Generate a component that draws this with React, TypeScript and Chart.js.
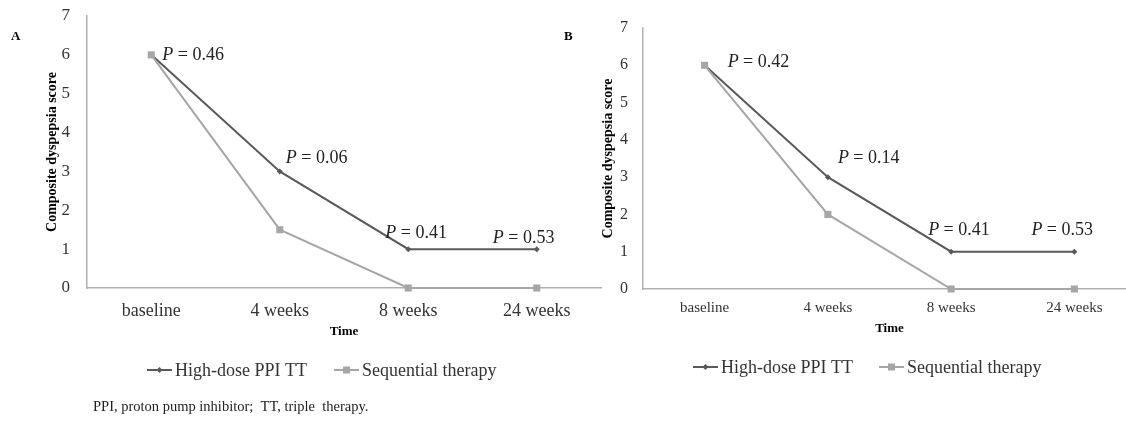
import React, { useEffect, useRef } from "react";
import { Chart, registerables } from "chart.js";

Chart.register(...registerables);

// ---- data ----
const categories = ["baseline", "4 weeks", "8 weeks", "24 weeks"];
const seriesNames = ["High-dose PPI TT", "Sequential therapy"];
const highDoseA = [6, 3, 1, 1];
const sequentialA = [6, 1.5, 0, 0];
const highDoseB = [6, 3, 1, 1];
const sequentialB = [6, 2, 0, 0];
const pValuesA = ["0.46", "0.06", "0.41", "0.53"];
const pValuesB = ["0.42", "0.14", "0.41", "0.53"];
const yAxisTitle = "Composite dyspepsia score";
const xAxisTitle = "Time";
const footnote = "PPI, proton pump inhibitor;  TT, triple  therapy.";

// ---- style ----
const DARK = "#595959";
const LIGHT = "#a6a6a6";
const AXIS = "#b0b0b0";
const TEXT = "#333333";
const SERIF = "'Liberation Serif', 'Times New Roman', serif";

type PanelCfg = {
  label: string;
  high: number[];
  seq: number[];
  pValues: string[];
  pOffsets: number[][];
  canvasLeft: number;
  canvasWidth: number;
  padTop: number;
  padRight: number;
  yWidth: number;
  xHeight: number;
  xTickSize: number;
  yTickSize: number;
  xTickPad: number;
  yTickPad: number;
  labelPos: number[];
  yTitleX: number;
  xTitleY: number;
  legendY: number;
  legendX: number[];
  showFootnote: boolean;
};

const panelA: PanelCfg = {
  label: "A",
  high: highDoseA,
  seq: sequentialA,
  pValues: pValuesA,
  pOffsets: [[11, 5], [6, -8], [-23, -11], [-44, -6]],
  canvasLeft: 0,
  canvasWidth: 610,
  padTop: 16,
  padRight: 9,
  yWidth: 87,
  xHeight: 138,
  xTickSize: 18,
  yTickSize: 17,
  xTickPad: 12,
  yTickPad: 17,
  labelPos: [11, 37],
  yTitleX: 52,
  xTitleY: 332,
  legendY: 370,
  legendX: [147, 334],
  showFootnote: true,
};

const panelB: PanelCfg = {
  label: "B",
  high: highDoseB,
  seq: sequentialB,
  pValues: pValuesB,
  pOffsets: [[23, 2], [10, -14], [-23, -17], [-43, -17]],
  canvasLeft: 563,
  canvasWidth: 580,
  padTop: 28,
  padRight: 7,
  yWidth: 80,
  xHeight: 137,
  xTickSize: 15,
  yTickSize: 16,
  xTickPad: 10,
  yTickPad: 15,
  labelPos: [564 - 563, 37],
  yTitleX: 608 - 563,
  xTitleY: 329,
  legendY: 367,
  legendX: [693 - 563, 879 - 563],
  showFootnote: false,
};

function drawMarker(ctx: CanvasRenderingContext2D, kind: number, x: number, y: number) {
  ctx.save();
  if (kind === 0) {
    ctx.fillStyle = DARK;
    ctx.beginPath();
    ctx.moveTo(x, y - 3);
    ctx.lineTo(x + 3, y);
    ctx.lineTo(x, y + 3);
    ctx.lineTo(x - 3, y);
    ctx.closePath();
    ctx.fill();
  } else {
    ctx.fillStyle = LIGHT;
    ctx.fillRect(x - 3.5, y - 3.5, 7, 7);
  }
  ctx.restore();
}

function makePlugin(cfg: PanelCfg) {
  return {
    id: "extras" + cfg.label,
    afterDraw(chart: any) {
      const ctx: CanvasRenderingContext2D = chart.ctx;
      const xs = chart.scales.x;
      const ys = chart.scales.y;
      const area = chart.chartArea;
      ctx.save();
      // P annotations
      cfg.pValues.forEach((pv, i) => {
        const px = xs.getPixelForValue(i) + cfg.pOffsets[i][0];
        const py = ys.getPixelForValue(cfg.high[i]) + cfg.pOffsets[i][1];
        ctx.fillStyle = "#222222";
        ctx.textBaseline = "alphabetic";
        ctx.textAlign = "left";
        ctx.font = `italic 18px ${SERIF}`;
        ctx.fillText("P", px, py);
        const w = ctx.measureText("P").width;
        ctx.font = `18px ${SERIF}`;
        ctx.fillText(" = " + pv, px + w, py);
      });
      // panel label
      ctx.fillStyle = "#000";
      ctx.font = `bold 13px ${SERIF}`;
      ctx.textAlign = "left";
      ctx.textBaseline = "middle";
      ctx.fillText(cfg.label, cfg.labelPos[0], cfg.labelPos[1]);
      // y title
      ctx.save();
      ctx.translate(cfg.yTitleX, (area.top + area.bottom) / 2);
      ctx.rotate(-Math.PI / 2);
      ctx.font = `bold 14px ${SERIF}`;
      ctx.textAlign = "center";
      ctx.textBaseline = "middle";
      ctx.fillStyle = "#000";
      ctx.fillText(yAxisTitle, 0, 0);
      ctx.restore();
      // x title
      ctx.font = `bold 13px ${SERIF}`;
      ctx.textAlign = "center";
      ctx.textBaseline = "middle";
      ctx.fillStyle = "#000";
      ctx.fillText(xAxisTitle, (area.left + area.right) / 2, cfg.xTitleY);
      // legend
      seriesNames.forEach((name, k) => {
        const x0 = cfg.legendX[k];
        const y = cfg.legendY;
        ctx.strokeStyle = k === 0 ? DARK : LIGHT;
        ctx.lineWidth = 2;
        ctx.beginPath();
        ctx.moveTo(x0, y);
        ctx.lineTo(x0 + 25, y);
        ctx.stroke();
        drawMarker(ctx, k, x0 + 12.5, y);
        ctx.fillStyle = TEXT;
        ctx.font = `18px ${SERIF}`;
        ctx.textAlign = "left";
        ctx.textBaseline = "middle";
        ctx.fillText(name, x0 + 28, y + 1);
      });
      if (cfg.showFootnote) {
        ctx.fillStyle = "#222";
        ctx.font = `14.5px ${SERIF}`;
        ctx.textAlign = "left";
        ctx.textBaseline = "middle";
        ctx.fillText(footnote, 93, 407);
      }
      ctx.restore();
    },
  };
}

function buildChart(canvas: HTMLCanvasElement, cfg: PanelCfg) {
  return new Chart(canvas, {
    type: "line",
    data: {
      labels: categories,
      datasets: [
        {
          label: seriesNames[0],
          data: cfg.high,
          borderColor: DARK,
          backgroundColor: DARK,
          borderWidth: 2,
          pointStyle: "rectRot",
          pointRadius: 3,
          pointBorderWidth: 0,
          tension: 0,
          order: 1,
          clip: false as any,
        },
        {
          label: seriesNames[1],
          data: cfg.seq,
          borderColor: LIGHT,
          backgroundColor: LIGHT,
          borderWidth: 2,
          pointStyle: "rect",
          pointRadius: 5,
          pointBorderWidth: 0,
          tension: 0,
          order: 0,
          clip: false as any,
        },
      ],
    },
    options: {
      responsive: false,
      animation: false,
      devicePixelRatio: 1,
      layout: { padding: { left: 0, top: cfg.padTop, right: cfg.padRight, bottom: 0 } },
      plugins: { legend: { display: false }, tooltip: { enabled: false }, title: { display: false } },
      events: [],
      scales: {
        x: {
          type: "category",
          offset: true,
          grid: { display: false, drawTicks: false },
          border: { display: true, color: AXIS, width: 1.5 },
          ticks: {
            color: TEXT,
            font: { family: SERIF, size: cfg.xTickSize },
            padding: cfg.xTickPad,
            maxRotation: 0,
            autoSkip: false,
          },
          afterFit: (s: any) => {
            s.height = cfg.xHeight;
            s.paddingLeft = 0;
            s.paddingRight = 0;
            s.paddingTop = 0;
            s.paddingBottom = 0;
          },
        },
        y: {
          min: 0,
          max: 7,
          grid: { display: false, drawTicks: false },
          border: { display: true, color: AXIS, width: 1.5 },
          ticks: {
            stepSize: 1,
            color: TEXT,
            font: { family: SERIF, size: cfg.yTickSize },
            padding: cfg.yTickPad,
          },
          afterFit: (s: any) => {
            s.width = cfg.yWidth;
            s.paddingTop = 0;
            s.paddingBottom = 0;
            s.paddingLeft = 0;
            s.paddingRight = 0;
          },
        },
      },
    } as any,
    plugins: [makePlugin(cfg)],
  });
}

function Panel({ cfg }: { cfg: PanelCfg }) {
  const ref = useRef<HTMLCanvasElement | null>(null);
  useEffect(() => {
    if (!ref.current) return;
    const chart = buildChart(ref.current, cfg);
    return () => chart.destroy();
  }, [cfg]);
  return (
    <canvas
      ref={ref}
      width={cfg.canvasWidth}
      height={426}
      style={{ position: "absolute", left: cfg.canvasLeft, top: 0, width: cfg.canvasWidth, height: 426 }}
    />
  );
}

export default function App() {
  return (
    <div
      style={{
        position: "absolute",
        left: 0,
        top: 0,
        width: 1126,
        height: 426,
        overflow: "hidden",
        background: "#ffffff",
      }}
    >
      <Panel cfg={panelA} />
      <Panel cfg={panelB} />
    </div>
  );
}
